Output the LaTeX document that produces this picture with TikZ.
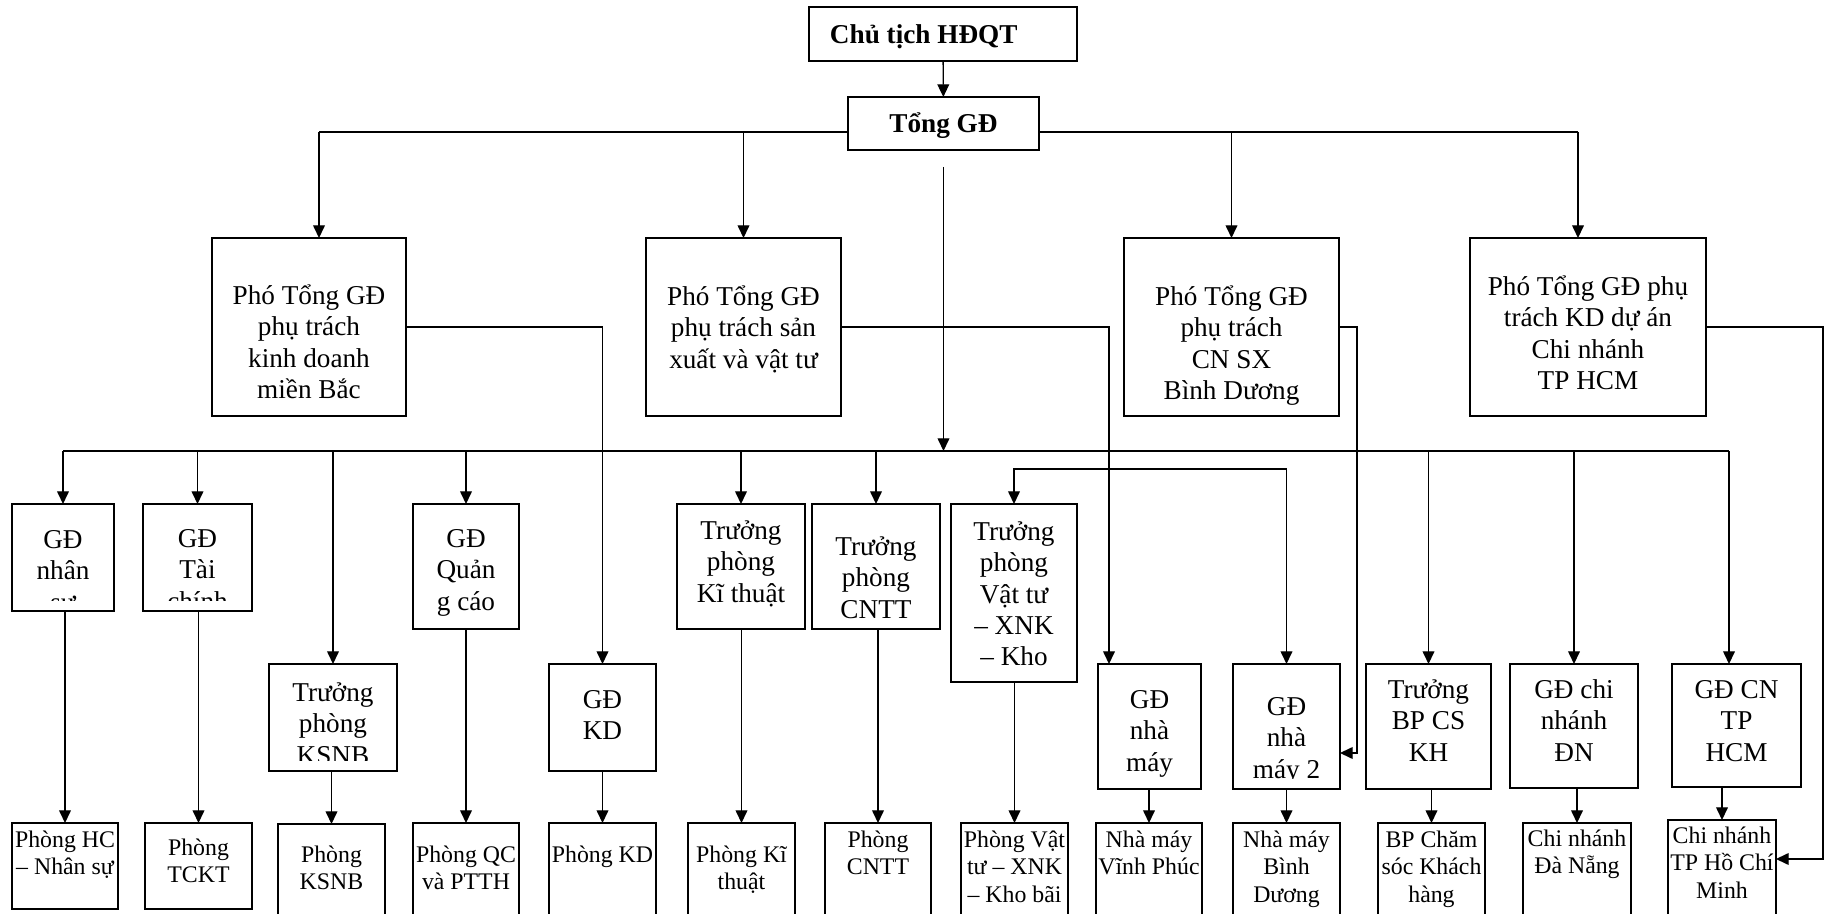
\documentclass[tikz,border=0pt]{standalone}
\usepackage{fontspec}
\setmainfont{Liberation Serif}
\usepackage{tikz}
\usetikzlibrary{calc,arrows.meta}

\lineskiplimit=-50pt
\newcommand{\pxu}{0.441pt}
\newcommand{\orgbox}[8][]{%
  \node[box, minimum width=#5*\pxu, minimum height=#6*\pxu] (#2) at (#3,#4) {};
  \begin{scope}
    \clip (#2.north west) rectangle ($(#2.south east)+(0,-10)$);
    \node[txt, #1] (#2-t) at ($(#2.north)+(0,#7-27.2)$) {\rule{0pt}{12pt}#8};
  \end{scope}}

\begin{document}
\begin{tikzpicture}[x=0.441pt, y=-0.441pt,
    box/.style={draw, line width=0.9pt, inner sep=0pt, outer sep=0pt, anchor=north west},
    txt/.style={inner sep=0pt, anchor=north, align=center, font=\fontsize{12}{13.8}\selectfont},
    small/.style={font=\fontsize{10.5}{12.1}\selectfont},
    ln/.style={line width=0.6pt},
    bus/.style={line width=1.3pt},
    arr/.style={line width=0.6pt, -{Triangle[length=5.6pt,width=5.2pt]}},
    arrs/.style={line width=0.6pt, {Triangle[length=5.6pt,width=5.2pt]}-{Triangle[length=5.6pt,width=5.2pt]}}]
    \useasboundingbox (0,0) rectangle (1828,914);
    \clip (0,0) rectangle (1828,914);

    \orgbox{chu}{809}{7}{268}{54}{36}{\textbf{Chủ tịch HĐQT}\hspace*{17pt}}
    \orgbox{tgd}{848}{97}{191}{53}{35}{\textbf{Tổng GĐ}}

    \orgbox{ptgd1}{212}{238}{194}{178}{66}{Phó Tổng GĐ\\phụ trách\\kinh doanh\\miền Bắc}
    \orgbox{ptgd2}{646}{238}{195}{178}{67}{Phó Tổng GĐ\\phụ trách sản\\xuất và vật tư}
    \orgbox{ptgd3}{1124}{238}{215}{178}{67}{Phó Tổng GĐ\\phụ trách\\CN SX\\Bình Dương}
    \orgbox{ptgd4}{1470}{238}{236}{178}{57}{Phó Tổng GĐ phụ\\trách KD dự án\\Chi nhánh\\TP HCM}

    \orgbox{gdns}{12}{504}{102}{107}{44}{GĐ\\nhân\\sự}
    \orgbox{gdtc}{143}{504}{109}{107}{43}{GĐ\\Tài\\chính}
    \orgbox{tpksnb}{269}{664}{128}{107}{37}{Trưởng\\phòng\\KSNB}
    \orgbox{gdqc}{413}{504}{106}{125}{43}{GĐ\\Quản\\g cáo}
    \orgbox{gdkd}{549}{664}{107}{107}{44}{GĐ\\KD}
    \orgbox{tpkt}{677}{504}{128}{125}{35}{Trưởng\\phòng\\Kĩ thuật}
    \orgbox{tpcntt}{812}{504}{128}{125}{51}{Trưởng\\phòng\\CNTT}
    \orgbox{tpvt}{951}{504}{126}{178}{36}{Trưởng\\phòng\\Vật tư\\– XNK\\– Kho}
    \orgbox{gdnm}{1098}{664}{103}{125}{44}{GĐ\\nhà\\máy}
    \orgbox{gdnm2}{1233}{664}{107}{125}{51}{GĐ\\nhà\\máy 2}
    \orgbox{tpcs}{1366}{664}{125}{125}{34}{Trưởng\\BP CS\\KH}
    \orgbox{gddn}{1510}{664}{128}{124}{34}{GĐ chi\\nhánh\\ĐN}
    \orgbox{gdhcm}{1672}{664}{129}{123}{34}{GĐ CN\\TP\\HCM}

    \orgbox[small]{phc}{12}{823}{106}{86}{24}{Phòng HC\\– Nhân sự}
    \orgbox[small]{ptckt}{145}{823}{107}{86}{32}{Phòng\\TCKT}
    \orgbox[small]{pksnb}{278}{824}{107}{120}{38}{Phòng\\KSNB}
    \orgbox[small]{pqc}{413}{823}{106}{120}{39}{Phòng QC\\và PTTH}
    \orgbox[small]{pkd}{549}{823}{107}{120}{39}{Phòng KD}
    \orgbox[small]{pkt}{688}{823}{107}{120}{39}{Phòng Kĩ\\thuật}
    \orgbox[small]{pcntt}{825}{823}{106}{120}{24}{Phòng\\CNTT}
    \orgbox[small]{pvt}{961}{823}{107}{120}{24}{Phòng Vật\\tư – XNK\\– Kho bãi}
    \orgbox[small]{nmvp}{1096}{823}{106}{120}{24}{Nhà máy\\Vĩnh Phúc}
    \orgbox[small]{nmbd}{1233}{823}{107}{120}{24}{Nhà máy\\Bình\\Dương}
    \orgbox[small]{bpcs}{1378}{823}{107}{120}{24}{BP Chăm\\sóc Khách\\hàng}
    \orgbox[small]{cndn}{1523}{823}{108}{120}{23}{Chi nhánh\\Đà Nẵng}
    \orgbox[small]{cnhcm}{1668}{820}{108}{120}{23}{Chi nhánh\\TP Hồ Chí\\Minh}

    \coordinate (p1) at (319,132);
    \coordinate (p4) at (1578,132);
    \coordinate (bus) at (944,451);
    \coordinate (bhcm) at (1729,451);
    \coordinate (vt) at (1014,469);
    \coordinate (c2) at (1109,327);
    \coordinate (c3) at (1357,753);
    \coordinate (c4) at (1823,859);

    % top levels
    \draw[arr] (chu) -- (tgd);
    \draw[ln] (p1) -- (tgd.west |- p1);
    \draw[ln] (tgd.east |- p4) -- (p4);
    \draw[arr] (p1) -- (p1 |- ptgd1.north);
    \draw[arr] (ptgd2.north |- p1) -- (ptgd2.north);
    \draw[arr] (ptgd3.north |- p1) -- (ptgd3.north);
    \draw[arr] (p4) -- (p4 |- ptgd4.north);
    \draw[arr] ($(tgd.south)+(0,17)$) -- (tgd.south |- bus);

    % bus
    \draw[bus] (gdns.north |- bus) -- (bhcm);
    \foreach \n in {gdns,gdtc,tpksnb,gdqc,tpkt,tpcntt,tpcs,gddn}
        \draw[arr] (\n.north |- bus) -- (\n.north);
    \draw[arr] (bhcm) -- (bhcm |- gdhcm.north);
    \draw[arrs] (tpvt.north) |- (gdnm2.north |- vt) -- (gdnm2.north);

    % from the deputies
    \draw[arr] (ptgd1.east) -| (gdkd.north);
    \draw[arr] (ptgd2.east) -- (c2) -- (c2 |- gdnm.north);
    \draw[arr] (ptgd3.east) -| (c3) -- (c3 -| gdnm2.east);
    \draw[arr] (ptgd4.east) -| (c4) -- (c4 -| cnhcm.east);

    % down to the offices
    \foreach \a/\b in {gdns/phc,gdtc/ptckt,tpksnb/pksnb,gdqc/pqc,gdkd/pkd,tpkt/pkt,tpcntt/pcntt,
        tpvt/pvt,gdnm/nmvp,gdnm2/nmbd,tpcs/bpcs,gddn/cndn,gdhcm/cnhcm}
        \draw[arr] (\b.north |- \a.south) -- (\b.north);
\end{tikzpicture}
\end{document}
